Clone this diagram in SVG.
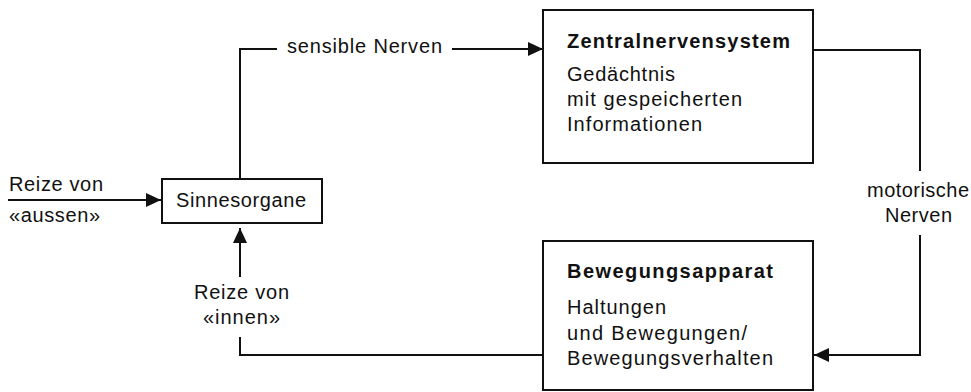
<svg xmlns="http://www.w3.org/2000/svg" width="971" height="392" viewBox="0 0 971 392">
<style>
text{font-family:"Liberation Sans",Arial,sans-serif;font-size:20px;fill:#111}
.b{font-weight:bold}
.box{fill:#fff;stroke:#111;stroke-width:2}
.c{fill:none;stroke:#111;stroke-width:2}
</style>
<defs>
<marker id="ah" markerUnits="userSpaceOnUse" markerWidth="16" markerHeight="16" refX="15" refY="7" orient="auto">
<path d="M0,0 L15,7 L0,14 Z" fill="#111"/>
</marker>
</defs>
<rect width="971" height="392" fill="#fff"/>
<g id="connectors">
<path class="c" d="M8,200 H161" marker-end="url(#ah)"/>
<path class="c" d="M240,179 V49 H277"/>
<path class="c" d="M452,49 H543" marker-end="url(#ah)"/>
<path class="c" d="M813,50 H920 V171"/>
<path class="c" d="M920,235 V355 H814" marker-end="url(#ah)"/>
<path class="c" d="M543,355 H240 V337"/>
<path class="c" d="M240,277 V228" marker-end="url(#ah)"/>
<text x="9" y="191" textLength="94" lengthAdjust="spacing">Reize von</text>
<text x="9" y="222" textLength="91" lengthAdjust="spacing">«aussen»</text>
<text x="287" y="53" textLength="155" lengthAdjust="spacing">sensible Nerven</text>
<text x="867" y="197" textLength="102" lengthAdjust="spacing">motorische</text>
<text x="885" y="222" textLength="67" lengthAdjust="spacing">Nerven</text>
<text x="194" y="299" textLength="95" lengthAdjust="spacing">Reize von</text>
<text x="203" y="324" textLength="77" lengthAdjust="spacing">«innen»</text>
</g>
<g id="sinnesorgane">
<rect class="box" x="162" y="179" width="160" height="44"/>
<text x="176" y="207" textLength="130" lengthAdjust="spacing">Sinnesorgane</text>
</g>
<g id="zns">
<rect class="box" x="543" y="10" width="270" height="153"/>
<text class="b" x="567" y="48" textLength="223" lengthAdjust="spacing">Zentralnervensystem</text>
<text x="567" y="81" textLength="108" lengthAdjust="spacing">Gedächtnis</text>
<text x="567" y="106" textLength="175" lengthAdjust="spacing">mit gespeicherten</text>
<text x="567" y="131" textLength="135" lengthAdjust="spacing">Informationen</text>
</g>
<g id="bewegungsapparat">
<rect class="box" x="543" y="241" width="270" height="149"/>
<text class="b" x="567" y="278" textLength="206" lengthAdjust="spacing">Bewegungsapparat</text>
<text x="567" y="314" textLength="99" lengthAdjust="spacing">Haltungen</text>
<text x="567" y="340" textLength="180" lengthAdjust="spacing">und Bewegungen/</text>
<text x="567" y="365" textLength="206" lengthAdjust="spacing">Bewegungsverhalten</text>
</g>
</svg>
